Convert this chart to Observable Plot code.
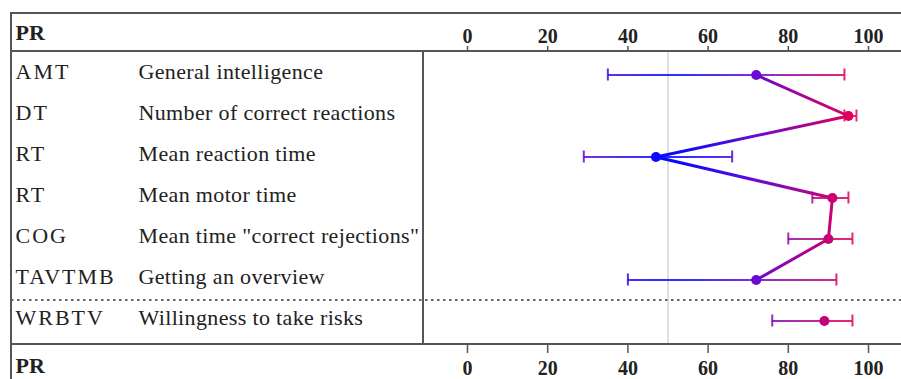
<!DOCTYPE html>
<html><head><meta charset="utf-8">
<script src="https://cdn.jsdelivr.net/npm/d3@7"></script>
<script src="https://cdn.jsdelivr.net/npm/@observablehq/plot@0.6"></script>
<style>
body{margin:0;background:#fff;}
svg text{font-family:"Liberation Serif","Times New Roman",serif;}
</style></head><body><div id="chart"></div>
<script>
// ---- data ----
const codes = ["AMT","DT","RT","RT","COG","TAVTMB","WRBTV"];
const labels = ["General intelligence","Number of correct reactions","Mean reaction time","Mean motor time","Mean time \"correct rejections\"","Getting an overview","Willingness to take risks"];
const values = [72,95,47,91,90,72,89];
const lower  = [35,94,29,86,80,40,76];
const upper  = [94,97,66,95,96,92,96];
const connected = [true,true,true,true,true,true,false];
const ticks = [0,20,40,60,80,100];
const reference = [50];
const headerLabel = "PR";

const rows = codes.map((c,i)=>({row:i, code:c, label:labels[i], value:values[i], lo:lower[i], hi:upper[i], connected:connected[i]}));

// ---- layout ----
const W=901, H=379, mL=423, mT=51, mB=35, mR=0;
const px0=467, px100=868;
const k=(px100-px0)/100;
const xDomain=[(mL-px0)/k, (W-mR-px0)/k];
const tableLeft=11, codeX=15, labelX=138;
const grad="url(#pr-grad)";
const lineColor="#555";
const FONT="Liberation Serif";

const svg = Plot.plot({
  width:W, height:H,
  marginLeft:mL, marginRight:mR, marginTop:mT, marginBottom:mB,
  style:{fontFamily:FONT, fontSize:"22px", color:"#222", background:"#fff", overflow:"visible"},
  x:{domain:xDomain, axis:null},
  y:{type:"band", domain:rows.map(d=>d.row), padding:0, axis:null},
  marks:[
    Plot.ruleX(reference, {stroke:"#e0e0e0", strokeWidth:2}),
    Plot.ruleY(rows, {y:"row", x1:"lo", x2:"hi", stroke:grad, strokeWidth:2, strokeOpacity:0.85}),
    Plot.tickX(rows, {x:"lo", y:"row", insetTop:14.5, insetBottom:14.5, stroke:grad, strokeWidth:2, strokeOpacity:0.85}),
    Plot.tickX(rows, {x:"hi", y:"row", insetTop:14.5, insetBottom:14.5, stroke:grad, strokeWidth:2, strokeOpacity:0.85}),
    Plot.line(rows.filter(d=>d.connected), {x:"value", y:"row", stroke:grad, strokeWidth:3}),
    Plot.dot(rows, {x:"value", y:"row", r:5, fill:grad, stroke:null}),
    Plot.text(rows, {y:"row", text:"code", frameAnchor:"left", textAnchor:"start", dx:codeX-mL, dy:-3, fill:"#222", fontFamily:FONT, fontSize:22}),
    Plot.text(rows, {y:"row", text:"label", frameAnchor:"left", textAnchor:"start", dx:labelX-mL, dy:-3, fill:"#222", fontFamily:FONT, fontSize:22}),
    Plot.axisX(ticks, {anchor:"top", tickSize:6, tickPadding:3, fontWeight:"bold", fontSize:20, fontFamily:FONT, stroke:lineColor, strokeWidth:1.5, fill:"#222"}),
    Plot.axisX(ticks, {anchor:"bottom", tickSize:9, tickPadding:7, fontWeight:"bold", fontSize:20, fontFamily:FONT, stroke:lineColor, strokeWidth:1.5, fill:"#222"}),
    Plot.text([headerLabel], {frameAnchor:"top-left", dx:codeX-mL, dy:-19, textAnchor:"start", lineAnchor:"middle", fontWeight:"bold", fontSize:22, fontFamily:FONT, fill:"#222"}),
    Plot.text([headerLabel], {frameAnchor:"bottom-left", dx:codeX-mL, dy:21, textAnchor:"start", lineAnchor:"middle", fontWeight:"bold", fontSize:22, fontFamily:FONT, fill:"#222"})
  ]
});

// gradient (x-based) built from the x scale
const xs = svg.scale("x"), ys = svg.scale("y");
const g = d3.select(svg);
const defs = g.insert("defs", ":first-child");
const lg = defs.append("linearGradient").attr("id","pr-grad").attr("gradientUnits","userSpaceOnUse")
  .attr("x1", xs.apply(0)).attr("x2", xs.apply(100)).attr("y1",0).attr("y2",0);
[[0,"#e8004f"],[0.05,"#e0005a"],[0.28,"#6a0ad2"],[0.47,"#0a0aff"],[0.53,"#0a0aff"],[0.72,"#6a0ad2"],[0.95,"#e0005a"],[1,"#e8004f"]]
  .forEach(([o,c])=>lg.append("stop").attr("offset",o).attr("stop-color",c));

// wider glyph spacing like the reference rendering
const codeSet = new Set(codes), labelSet = new Set(labels);
g.selectAll("text").each(function(){
  const t = this.textContent;
  if (codeSet.has(t)) this.setAttribute("letter-spacing","2");
  else if (labelSet.has(t)) this.setAttribute("letter-spacing","0.35");
});

// table frame
const yTop = mT, yBot = H - mB;
const sepY = ys.apply(rows[rows.length-1].row);
const frame = g.append("g").attr("stroke",lineColor).attr("stroke-width",2).attr("fill","none");
frame.append("line").attr("x1",tableLeft).attr("x2",W).attr("y1",13).attr("y2",13);
frame.append("line").attr("x1",tableLeft).attr("x2",W).attr("y1",yTop).attr("y2",yTop);
frame.append("line").attr("x1",tableLeft).attr("x2",W).attr("y1",yBot).attr("y2",yBot);
frame.append("line").attr("x1",tableLeft).attr("x2",tableLeft).attr("y1",12).attr("y2",H);
frame.append("line").attr("x1",mL).attr("x2",mL).attr("y1",yTop).attr("y2",yBot);
frame.append("line").attr("x1",tableLeft).attr("x2",W).attr("y1",sepY).attr("y2",sepY)
  .attr("stroke","#666").attr("stroke-dasharray","2.5,3.5");

document.getElementById("chart").appendChild(svg);
</script></body></html>
